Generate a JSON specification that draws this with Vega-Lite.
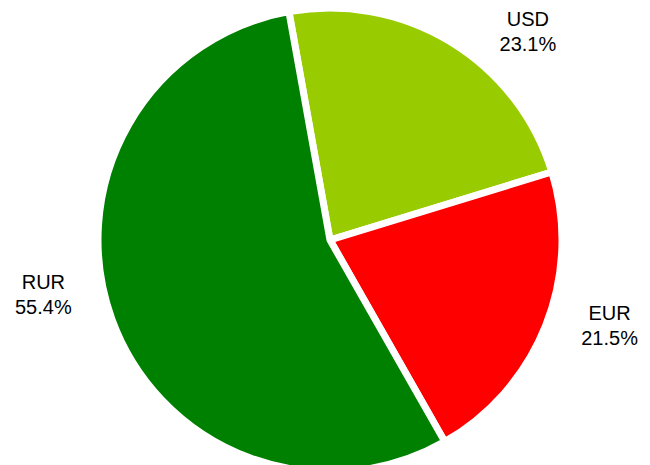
{
  "$schema": "https://vega.github.io/schema/vega-lite/v6.json",
  "width": 650,
  "height": 465,
  "autosize": {"type": "fit", "contains": "padding"},
  "padding": {"top": 15, "left": 10, "right": 0, "bottom": 0},
  "background": "white",
  "view": {"stroke": null},
  "data": {
    "values": [
      {"currency": "USD", "share": 23.1, "i": 1, "label": "USD\n23.1%"},
      {"currency": "EUR", "share": 21.5, "i": 2, "label": "EUR\n21.5%"},
      {"currency": "RUR", "share": 55.4, "i": 3, "label": "RUR\n55.4%"}
    ]
  },
  "layer": [
    {
      "mark": {"type": "arc", "outerRadius": 232, "stroke": "white", "strokeWidth": 7},
      "encoding": {
        "theta": {"field": "share", "type": "quantitative", "stack": true, "scale": {"range": [-0.178, 6.105]}},
        "order": {"field": "i", "type": "quantitative"},
        "color": {
          "field": "currency",
          "type": "nominal",
          "scale": {"domain": ["USD", "EUR", "RUR"], "range": ["#99CC00", "#FF0000", "#008000"]},
          "legend": null
        }
      }
    },
    {
      "mark": {"type": "text", "radius": 291, "dy": -7, "font": "Liberation Sans", "fontSize": 20, "lineHeight": 25, "lineBreak": "\n", "align": "center", "baseline": "middle", "color": "black"},
      "encoding": {
        "theta": {"field": "share", "type": "quantitative", "stack": true, "scale": {"type": "pow", "exponent": 1.4, "domain": [0, 100], "range": [0.433, 6.899]}},
        "order": {"field": "i", "type": "quantitative"},
        "text": {"field": "label"}
      }
    }
  ],
  "resolve": {"scale": {"theta": "independent"}}
}
